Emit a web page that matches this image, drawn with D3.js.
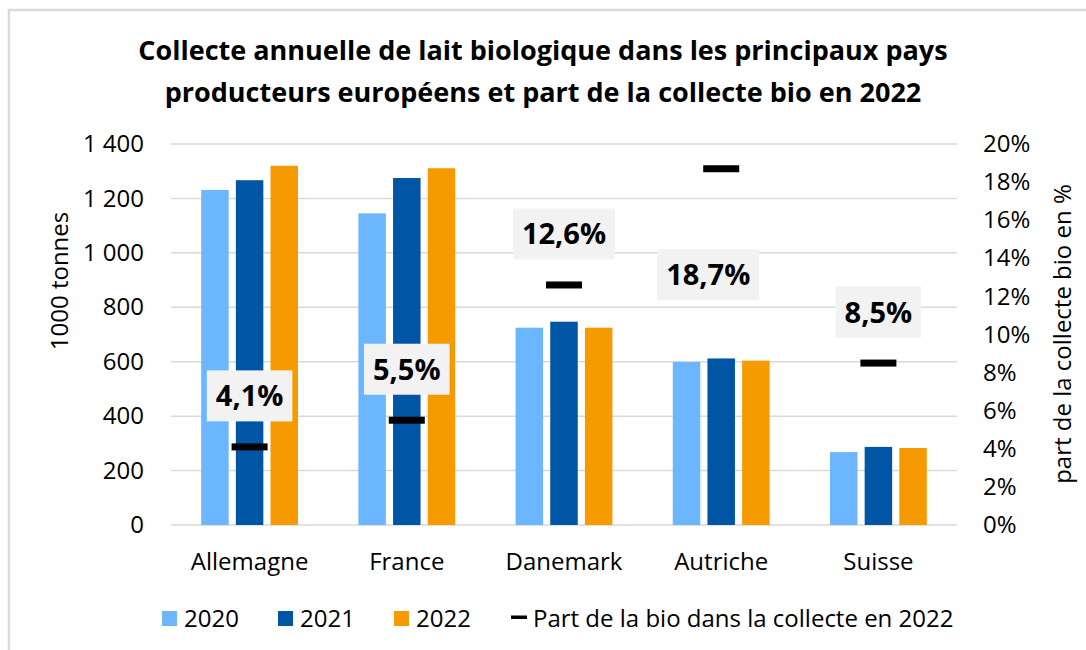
<!DOCTYPE html>
<html>
<head>
<meta charset="utf-8">
<script src="https://cdn.jsdelivr.net/npm/d3@7"></script>
<style>
  body { margin: 0; background: #fff; }
  svg text { font-family: "Open Sans", "Noto Sans", sans-serif; fill: #000; }
</style>
</head>
<body>
<div id="chart"></div>
<script>
// Data
const countries = ["Allemagne", "France", "Danemark", "Autriche", "Suisse"];
const years = ["2020", "2021", "2022"];
const collecte2020 = [1231, 1145, 725, 599, 268];
const collecte2021 = [1267, 1275, 747, 612, 287];
const collecte2022 = [1320, 1311, 725, 604, 283];
const partBio2022 = [4.1, 5.5, 12.6, 18.7, 8.5];
const leftTicks = [0, 200, 400, 600, 800, 1000, 1200, 1400];
const rightTicks = [0, 2, 4, 6, 8, 10, 12, 14, 16, 18, 20];

const colors = { "2020": "#6bb6ff", "2021": "#0055a5", "2022": "#f59a00" };
const series = { "2020": collecte2020, "2021": collecte2021, "2022": collecte2022 };

const W = 1086, H = 650;
const plot = { left: 171, right: 957, top: 144, bottom: 525 };
const fs = "24px";

const svg = d3.select("#chart").append("svg")
    .attr("width", W)
    .attr("height", H);

// outer frame (only left & top edges visible in the crop)
svg.append("rect")
    .attr("x", 9).attr("y", 10)
    .attr("width", W + 20).attr("height", H + 20)
    .attr("fill", "#fff")
    .attr("stroke", "#d9d9d9")
    .attr("stroke-width", 2.5);

// Scales
const x0 = d3.scaleBand()
    .domain(countries)
    .range([plot.left, plot.right])
    .paddingInner(0.384)
    .paddingOuter(0.192);

const x1 = d3.scaleBand()
    .domain(years)
    .range([0, x0.bandwidth()])
    .paddingInner(0.207);

const y = d3.scaleLinear().domain([0, 1400]).range([plot.bottom, plot.top]);
const y2 = d3.scaleLinear().domain([0, 20]).range([plot.bottom, plot.top]);

// Title
const title = svg.append("text")
    .attr("x", 543)
    .attr("text-anchor", "middle")
    .style("font-weight", "bold")
    .style("font-size", "27px");
title.append("tspan").attr("x", 543).attr("y", 60)
    .text("Collecte annuelle de lait biologique dans les principaux pays");
title.append("tspan").attr("x", 543).attr("y", 102)
    .text("producteurs européens et part de la collecte bio en 2022");

// Gridlines
svg.append("g")
    .selectAll("line")
    .data(leftTicks)
    .enter()
    .append("line")
    .attr("x1", plot.left)
    .attr("x2", plot.right)
    .attr("y1", d => y(d))
    .attr("y2", d => y(d))
    .attr("stroke", "#d9d9d9")
    .attr("stroke-width", 1.5);

// Left axis
const leftAxis = svg.append("g")
    .attr("transform", `translate(${plot.left},0)`)
    .call(d3.axisLeft(y).tickValues(leftTicks).tickSize(0).tickPadding(27)
        .tickFormat(d => d3.format(",")(d).replace(",", " ")));
leftAxis.select(".domain").remove();
leftAxis.selectAll("text")
    .style("font-size", fs)
    .attr("fill", "#1a1a1a");

// Right axis
const rightAxis = svg.append("g")
    .attr("transform", `translate(${plot.right},0)`)
    .call(d3.axisRight(y2).tickValues(rightTicks).tickSize(0).tickPadding(26)
        .tickFormat(d => d + "%"));
rightAxis.select(".domain").remove();
rightAxis.selectAll("text")
    .style("font-size", fs)
    .attr("fill", "#1a1a1a");

// Axis titles
svg.append("text")
    .attr("transform", "translate(60,281) rotate(-90)")
    .attr("text-anchor", "middle")
    .attr("dy", "0.35em")
    .style("font-size", fs)
    .attr("fill", "#1a1a1a")
    .text("1000 tonnes");

svg.append("text")
    .attr("transform", "translate(1063,334) rotate(-90)")
    .attr("text-anchor", "middle")
    .attr("dy", "0.35em")
    .style("font-size", fs)
    .attr("fill", "#1a1a1a")
    .text("part de la collecte bio en %");

// Bars
const groups = svg.append("g")
    .selectAll("g")
    .data(countries)
    .enter()
    .append("g")
    .attr("transform", d => `translate(${x0(d)},0)`);

groups.selectAll("rect")
    .data((c, i) => years.map(yr => ({ year: yr, value: series[yr][i] })))
    .enter()
    .append("rect")
    .attr("x", d => x1(d.year))
    .attr("width", x1.bandwidth())
    .attr("y", d => y(d.value))
    .attr("height", d => plot.bottom - y(d.value))
    .attr("fill", d => colors[d.year]);

// Category labels
svg.append("g")
    .selectAll("text")
    .data(countries)
    .enter()
    .append("text")
    .attr("x", d => x0(d) + x0.bandwidth() / 2)
    .attr("y", 562)
    .attr("dy", "0.35em")
    .attr("text-anchor", "middle")
    .style("font-size", fs)
    .attr("fill", "#1a1a1a")
    .text(d => d);

// Part bio markers (dash)
const markers = countries.map((c, i) => ({ country: c, value: partBio2022[i] }));
svg.append("g")
    .selectAll("rect")
    .data(markers)
    .enter()
    .append("rect")
    .attr("x", d => x0(d.country) + x0.bandwidth() / 2 - 18)
    .attr("y", d => y2(d.value) - 3.5)
    .attr("width", 36)
    .attr("height", 7)
    .attr("fill", "#000");

// Data labels (Autriche label was moved below its marker in the source)
const labelShift = { Autriche: { dx: -13, dy: 106 } };
const labels = svg.append("g")
    .selectAll("g")
    .data(markers)
    .enter()
    .append("g")
    .attr("transform", d => {
        const s = labelShift[d.country] || { dx: 0, dy: -51 };
        return `translate(${x0(d.country) + x0.bandwidth() / 2 + s.dx},${y2(d.value) + s.dy})`;
    });

labels.append("text")
    .attr("text-anchor", "middle")
    .attr("dy", "0.36em")
    .style("font-weight", "bold")
    .style("font-size", "29px")
    .text(d => d3.format(".1f")(d.value).replace(".", ",") + "%");

labels.each(function () {
    const g = d3.select(this);
    const bb = g.select("text").node().getBBox();
    g.insert("rect", "text")
        .attr("x", bb.x - 9)
        .attr("y", -25.5)
        .attr("width", bb.width + 18)
        .attr("height", 51)
        .attr("fill", "#f2f2f2");
});

// Legend
const legend = svg.append("g");
const legendX = { "2020": 162, "2021": 278, "2022": 394 };
years.forEach(yr => {
    legend.append("rect")
        .attr("x", legendX[yr]).attr("y", 611)
        .attr("width", 15).attr("height", 15)
        .attr("fill", colors[yr]);
    legend.append("text")
        .attr("x", legendX[yr] + 22).attr("y", 618.5)
        .attr("dy", "0.35em")
        .style("font-size", fs)
        .attr("fill", "#1a1a1a")
        .text(yr);
});
legend.append("rect")
    .attr("x", 511).attr("y", 615.5)
    .attr("width", 16).attr("height", 3.5)
    .attr("fill", "#000");
legend.append("text")
    .attr("x", 533).attr("y", 618.5)
    .attr("dy", "0.35em")
    .style("font-size", fs)
    .attr("fill", "#1a1a1a")
    .text("Part de la bio dans la collecte en 2022");
</script>
</body>
</html>
